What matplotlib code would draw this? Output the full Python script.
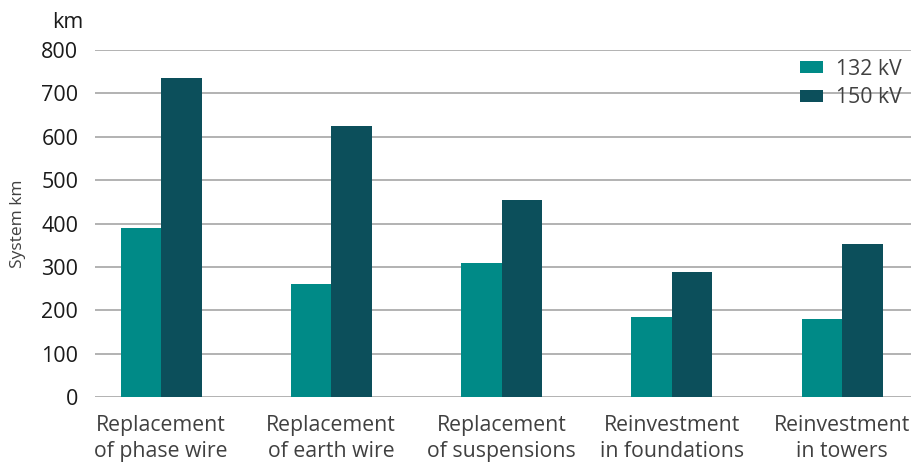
import matplotlib
matplotlib.use("Agg")
import matplotlib.pyplot as plt
import numpy as np

categories = ["Replacement\nof phase wire", "Replacement\nof earth wire",
              "Replacement\nof suspensions", "Reinvestment\nin foundations",
              "Reinvestment\nin towers"]
kv132 = [390, 260, 310, 185, 180]
kv150 = [735, 625, 455, 288, 352]
yticks = [0, 100, 200, 300, 400, 500, 600, 700, 800]

plt.rcParams["font.family"] = ["Open Sans", "DejaVu Sans"]

fig = plt.figure(figsize=(9.11, 4.62), dpi=100)
ax = fig.add_axes([95 / 911, 65 / 462, 816 / 911, 347 / 462])

x = np.arange(len(categories))
w = 0.238
ax.bar(x - w / 2, kv132, w, color="#008A87", label="132 kV", zorder=3)
ax.bar(x + w / 2, kv150, w, color="#0C4F5B", label="150 kV", zorder=3)

ax.set_xlim(-0.388, 4.405)
ax.set_ylim(0, 800)
ax.set_yticks(yticks)
ax.yaxis.grid(True, color="#A6A6A6", linewidth=1.2, zorder=0)
ax.set_xticks(x)
ax.set_xticklabels(categories, fontsize=15.3, color="#404040", linespacing=1.3)
ax.tick_params(axis="y", labelsize=15.5, length=0, pad=12, labelcolor="#1a1a1a")
ax.tick_params(axis="x", length=0, pad=13)
for s in ax.spines.values():
    s.set_visible(False)

ax.set_ylabel("System km", fontsize=12.5, color="#404040", labelpad=11)
fig.text(83 / 911, 1 - 22 / 462, "km", fontsize=15.5, ha="right", va="center",
         color="#1a1a1a")

ax.legend(loc="upper right", bbox_to_anchor=(1.012, 1.03), frameon=False,
          fontsize=15.3, handlelength=1.1, handleheight=0.5,
          labelspacing=0.35, handletextpad=0.6, labelcolor="#404040")

fig.savefig("out.png", dpi=100)
